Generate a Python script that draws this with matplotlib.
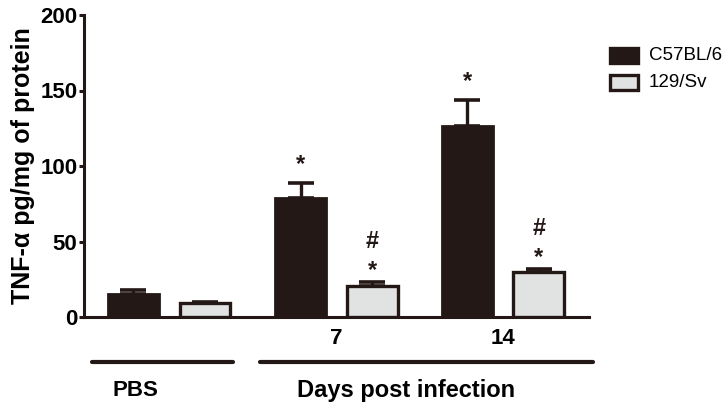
import matplotlib
matplotlib.use("Agg")
import matplotlib.pyplot as plt
from matplotlib.patches import Rectangle

plt.rcParams['font.family'] = ['Liberation Sans', 'DejaVu Sans']

groups = ["PBS", "7", "14"]
strains = ["C57BL/6", "129/Sv"]
c57_mean = [15.5, 79, 126.5]
c57_err = [2.5, 10, 17]
sv_mean = [9, 20.5, 29.5]
sv_err = [1, 3, 2.5]
c57_marks = [[], ["*"], ["*"]]
sv_marks = [[], ["*", "#"], ["*", "#"]]

dark = "#231815"
light = "#e1e3e3"

W, H = 728, 413
fig = plt.figure(figsize=(W / 100, H / 100), dpi=100)
left, right, top, bottom = 84, 589, 15, 317
ax = fig.add_axes([left / W, 1 - bottom / H, (right - left) / W, (bottom - top) / H])

group_x = [0, 2.34, 4.67]
pair_off = 1.0
bw = 0.713

MARK_FS = 17
glyph_centre = {"*": 0.58, "#": 0.36}


def put_marks(x, ytop, marks, first):
    for k, m in enumerate(marks):
        yc = ytop + first + 16 * k
        ax.annotate(m, (x, yc), xytext=(0, -glyph_centre[m] * MARK_FS),
                    textcoords='offset points', ha='center', va='baseline',
                    fontsize=MARK_FS, fontweight='bold', color=dark)


for i, g in enumerate(groups):
    x1 = group_x[i]
    x2 = group_x[i] + pair_off
    ax.bar(x1, c57_mean[i], width=bw, color=dark, edgecolor=dark, linewidth=2, zorder=3)
    ax.bar(x2, sv_mean[i], width=bw, color=light, edgecolor=dark, linewidth=2.4, zorder=3)
    ax.errorbar(x1, c57_mean[i], yerr=[[0], [c57_err[i]]], fmt='none', ecolor=dark,
                elinewidth=2.4, capsize=9.5, capthick=2.6, zorder=2)
    ax.errorbar(x2, sv_mean[i], yerr=[[0], [sv_err[i]]], fmt='none', ecolor=dark,
                elinewidth=2.4, capsize=9.5, capthick=2.6, zorder=2)
    put_marks(x1, c57_mean[i] + c57_err[i], c57_marks[i], 17)
    put_marks(x2, sv_mean[i] + sv_err[i], sv_marks[i], 12)

ax.set_xlim(-0.692, 6.37)
ax.set_ylim(0, 200)
ax.set_yticks([0, 50, 100, 150, 200])
ax.set_xticks([])
for s in ['top', 'right']:
    ax.spines[s].set_visible(False)
for s in ['left', 'bottom']:
    ax.spines[s].set_linewidth(2.2)
    ax.spines[s].set_color(dark)
ax.tick_params(axis='y', length=3.8, width=2.2, color=dark, labelsize=16, pad=1)
for lab in ax.get_yticklabels():
    lab.set_fontweight('bold')
ax.set_ylabel("TNF-α pg/mg of protein", fontsize=18, fontweight='bold', labelpad=4)

for i in [1, 2]:
    ax.text(group_x[i] + pair_off / 2, -0.07, groups[i], transform=ax.get_xaxis_transform(),
            ha='center', va='center', fontsize=16, fontweight='bold')


def fx(px):
    return px / W


def fy(py):
    return 1 - py / H


fig.add_artist(plt.Line2D([fx(92), fx(233)], [fy(362), fy(362)], color=dark, lw=3,
                          solid_capstyle='round'))
fig.add_artist(plt.Line2D([fx(260), fx(593)], [fy(362), fy(362)], color=dark, lw=3,
                          solid_capstyle='round'))
fig.text(fx(135), fy(390), groups[0], ha='center', va='center', fontsize=16, fontweight='bold')
fig.text(fx(406), fy(391), "Days post infection", ha='center', va='center', fontsize=17,
         fontweight='bold')

for j, (name, fc) in enumerate(zip(strains, [dark, light])):
    y0 = 48 + j * 27
    fig.add_artist(Rectangle((fx(610), fy(y0 + 15)), (638 - 610) / W, 15 / H,
                             facecolor=fc, edgecolor=dark, linewidth=2.4,
                             transform=fig.transFigure))
    fig.text(fx(649), fy(y0 + 7.5), name, ha='left', va='center', fontsize=13.5)

fig.savefig("out.png", dpi=100)
